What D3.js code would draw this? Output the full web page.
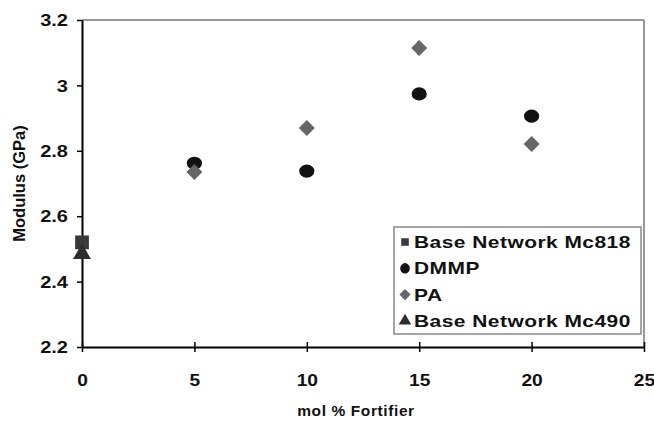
<!DOCTYPE html>
<html><head><meta charset="utf-8">
<script src="https://cdn.jsdelivr.net/npm/d3@7"></script>
<style>body{margin:0;background:#fff}svg text{font-family:"Liberation Sans",Arial,sans-serif;font-weight:bold}</style>
</head><body><svg id="c" width="654" height="422"></svg>
<script>
const xTicks = [0,5,10,15,20,25];
const yTicks = [2.2,2.4,2.6,2.8,3.0,3.2];
const base818 = [{x:0,y:2.52}];
const dmmp = [{x:5,y:2.762},{x:10,y:2.738},{x:15,y:2.974},{x:20,y:2.906}];
const pa = [{x:5,y:2.735},{x:10,y:2.87},{x:15,y:3.114},{x:20,y:2.821}];
const base490 = [{x:0,y:2.485}];
const legendLabels = ["Base Network Mc818","DMMP","PA","Base Network Mc490"];

const svg = d3.select("#c");
const x = d3.scaleLinear().domain([0,25]).range([82,644]);
const y = d3.scaleLinear().domain([2.2,3.2]).range([347,20]);

// frame top/right grey
svg.append("line").attr("x1",x(0)).attr("x2",x(25)).attr("y1",y(3.2)).attr("y2",y(3.2)).attr("stroke","#999").attr("stroke-width",2);
svg.append("line").attr("x1",x(25)).attr("x2",x(25)).attr("y1",y(3.2)).attr("y2",y(2.2)).attr("stroke","#999").attr("stroke-width",2);

const xa = svg.append("g").attr("transform",`translate(0,${y(2.2)})`)
  .call(d3.axisBottom(x).tickValues(xTicks).tickSizeInner(0).tickSizeOuter(0).tickPadding(0).tickFormat(d3.format("d")));
xa.selectAll(".tick").append("line").attr("y1",-5).attr("y2",5).attr("stroke","#000").attr("stroke-width",1.5);
xa.select(".domain").attr("stroke","#000").attr("stroke-width",2);
xa.selectAll("text").attr("dy",null).attr("y",0).attr("font-size",16).attr("fill","#111")
  .attr("transform","translate(0,39) scale(1.2,1)");

const ya = svg.append("g").attr("transform",`translate(${x(0)},0)`)
  .call(d3.axisLeft(y).tickValues(yTicks).tickSizeInner(0).tickSizeOuter(0).tickFormat(d=>d3.format("")(+d.toFixed(1))));
ya.selectAll(".tick").append("line").attr("x1",-5).attr("x2",0).attr("stroke","#000").attr("stroke-width",1.5);
ya.select(".domain").attr("stroke","#000").attr("stroke-width",2);
ya.selectAll("text").attr("x",0).attr("dy","0.36em").attr("font-size",16).attr("fill","#111")
  .attr("transform","translate(-14,0) scale(1.25,1)");

// axis titles
svg.append("text").attr("transform",`translate(25,${(y(2.2)+y(3.2))/2}) rotate(-90)`).attr("text-anchor","middle")
  .attr("font-size",16.5).attr("fill","#111").text("Modulus (GPa)");
svg.append("text").attr("x",356).attr("y",416).attr("text-anchor","middle").attr("font-size",15.5)
  .attr("letter-spacing","0.6").attr("fill","#111").text("mol % Fortifier");

const sym = {
  sq: d3.symbol().type(d3.symbolSquare).size(190),
  ci: d3.symbol().type(d3.symbolCircle).size(150),
  di: d3.symbol().type(d3.symbolSquare).size(128),
  tr: d3.symbol().type(d3.symbolTriangle).size(140)
};
function plot(data, s, fill, sx, sy, rot){
  svg.append("g").selectAll("path").data(data).join("path")
    .attr("d", s).attr("fill", fill)
    .attr("transform", d=>`translate(${x(d.x)},${y(d.y)}) scale(${sx},${sy}) rotate(${rot||0})`);
}
plot(base818, sym.sq, "#3a3a3a", 1, 1);
plot(base490, sym.tr, "#2e2e2e", 1, 1);
plot(dmmp, sym.ci, "#111", 1.1, 0.95);
plot(pa, sym.di, "#666", 1, 1, 45);

// legend
const lg = svg.append("g");
lg.append("rect").attr("x",394).attr("y",227).attr("width",247).attr("height",107)
  .attr("fill","#fff").attr("stroke","#888").attr("stroke-width",1.5);
const legSyms = [[sym.sq,"#3a3a3a",0.55,0.55,0],[sym.ci,"#111",0.7,0.75,0],[sym.di,"#666",0.7,0.7,45],[sym.tr,"#2e2e2e",0.7,0.7,0]];
legendLabels.forEach((t,i)=>{
  const cy = 242 + i*26.3;
  const s = legSyms[i];
  lg.append("path").attr("d",s[0]).attr("fill",s[1]).attr("transform",`translate(405,${cy}) scale(${s[2]},${s[3]}) rotate(${s[4]})`);
  lg.append("text").attr("x",0).attr("y",0).attr("font-size",17).attr("fill","#111").attr("letter-spacing","0.4")
    .attr("transform",`translate(414,${cy+6}) scale(1.23,1)`).text(t);
});
</script></body></html>
